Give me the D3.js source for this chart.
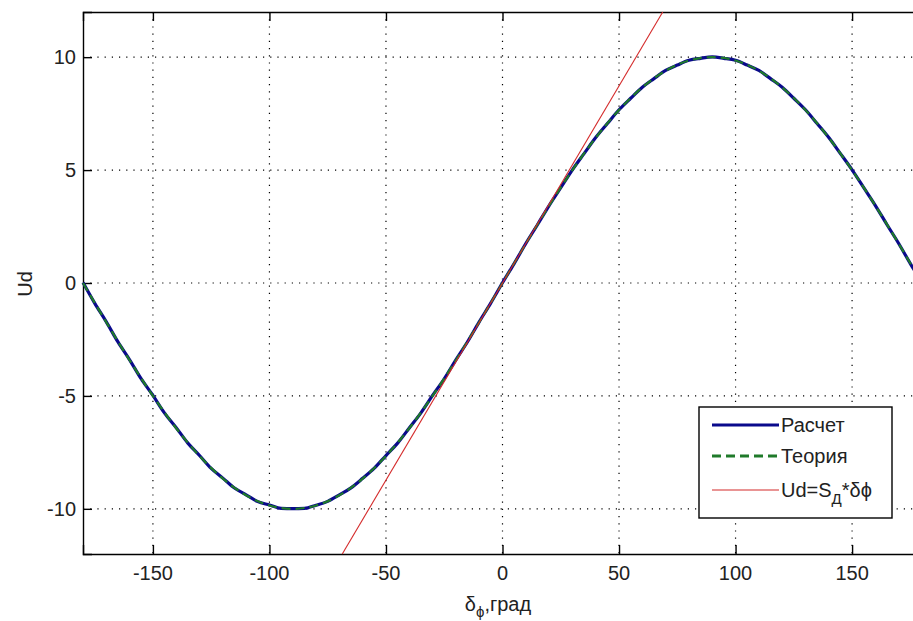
<!DOCTYPE html>
<html>
<head>
<meta charset="utf-8">
<script src="https://cdn.jsdelivr.net/npm/d3@7"></script>
<style>
  body { margin: 0; background: #fff; }
  svg { display: block; font-family: "Liberation Sans", Arial, sans-serif; }
</style>
</head>
<body>
<svg id="chart"></svg>
<script>

// x ticks / y ticks
const xticks = [-150, -100, -50, 0, 50, 100, 150];
const yticks = [-10, -5, 0, 5, 10];

// "Расчет" : measured curve, every 5 deg from -180 to 180
const calc_x = d3.range(-180, 181, 5);
const calc_y = [
    0.02, -0.89, -1.72, -2.61, -3.40, -4.25, -4.98, -5.76, -6.41, -7.09,
    -7.64, -8.21, -8.64, -9.08, -9.38, -9.68, -9.83, -9.98, -9.99, -9.98,
    -9.84, -9.67, -9.38, -9.07, -8.65, -8.20, -7.64, -7.09, -6.42, -5.75,
    -4.98, -4.24, -3.40, -2.60, -1.72, -0.88, 0.01, 0.86, 1.75, 2.58,
    3.43, 4.22, 5.01, 5.73, 6.44, 7.06, 7.67, 8.18, 8.67, 9.05,
    9.41, 9.65, 9.86, 9.95, 10.01, 9.95, 9.86, 9.65, 9.41, 9.05,
    8.67, 8.18, 7.67, 7.06, 6.44, 5.73, 5.01, 4.22, 3.43, 2.58,
    1.75, 0.86, 0.01
];

// "Теория" : theory curve, every 10 deg
const theory_x = d3.range(-180, 181, 10);
const theory_y = [
    0, -1.74, -3.42, -5.0, -6.43, -7.66, -8.66, -9.40, -9.85, -10,
    -9.85, -9.40, -8.66, -7.66, -6.43, -5.0, -3.42, -1.74, 0, 1.74,
    3.42, 5.0, 6.43, 7.66, 8.66, 9.40, 9.85, 10, 9.85, 9.40,
    8.66, 7.66, 6.43, 5.0, 3.42, 1.74, 0
];

// Ud = S_A * dphi : straight line through its two ends
const slope_x = [-68.75, 68.75];
const slope_y = [-12, 12];

const legend_labels = ["Расчет", "Теория", "Ud=S"];

const W = 913, H = 621;
const margin = {left: 83, top: 12, right: 922, bottom: 554};

const svg = d3.select('#chart')
    .attr('width', W)
    .attr('height', H);

svg.append('rect').attr('width', W).attr('height', H).attr('fill', '#fff');

const xscale = d3.scaleLinear().domain([-180, 180]).range([margin.left, margin.right]);
const yscale = d3.scaleLinear().domain([-12, 12]).range([margin.bottom, margin.top]);

// grid
const grid = svg.append('g')
    .attr('stroke', '#000')
    .attr('stroke-width', 1.2)
    .attr('stroke-dasharray', '1.2,6');
grid.selectAll('.vg').data(xticks).enter().append('line')
    .attr('x1', d => xscale(d)).attr('x2', d => xscale(d))
    .attr('y1', margin.top).attr('y2', margin.bottom);
grid.selectAll('.hg').data(yticks).enter().append('line')
    .attr('x1', margin.left).attr('x2', margin.right)
    .attr('y1', d => yscale(d)).attr('y2', d => yscale(d));

// axes (ticks pointing inward)
const fs = '20px';
const xaxis = svg.append('g')
    .attr('transform', `translate(0, ${margin.bottom})`)
    .call(d3.axisTop(xscale).tickValues(xticks).tickSize(9).tickFormat(''));
const xaxis_top = svg.append('g')
    .attr('transform', `translate(0, ${margin.top})`)
    .call(d3.axisBottom(xscale).tickValues(xticks).tickSize(9).tickFormat(''));
const yaxis = svg.append('g')
    .attr('transform', `translate(${margin.left}, 0)`)
    .call(d3.axisRight(yscale).tickValues(yticks).tickSize(9).tickFormat(''));
[xaxis, xaxis_top, yaxis].forEach(g => {
    g.select('.domain').attr('stroke', '#000').attr('stroke-width', 1.4);
    g.selectAll('.tick line').attr('stroke', '#000').attr('stroke-width', 1.4);
});

// tick labels
svg.append('g').selectAll('text').data(xticks).enter().append('text')
    .attr('x', d => xscale(d))
    .attr('y', 580)
    .attr('text-anchor', 'middle')
    .attr('font-size', fs)
    .attr('fill', '#222')
    .text(d => d);
svg.append('g').selectAll('text').data(yticks).enter().append('text')
    .attr('x', 76)
    .attr('y', d => yscale(d) + 7)
    .attr('text-anchor', 'end')
    .attr('font-size', fs)
    .attr('fill', '#222')
    .text(d => d);

// axis labels
const xlabel = svg.append('text')
    .attr('x', 498)
    .attr('y', 611)
    .attr('text-anchor', 'middle')
    .attr('font-size', fs)
    .attr('fill', '#222');
xlabel.append('tspan').text('δ');
xlabel.append('tspan').attr('dy', 6).attr('font-size', '15px').text('ϕ');
xlabel.append('tspan').attr('dy', -6).text(',град');

svg.append('text')
    .attr('transform', `translate(32, 284) rotate(-90)`)
    .attr('text-anchor', 'middle')
    .attr('font-size', fs)
    .attr('fill', '#222')
    .text('Ud');

// curves
const plot = svg.append('g');
const line = d3.line().x(d => xscale(d[0])).y(d => yscale(d[1]));

plot.append('path')
    .datum(d3.zip(calc_x, calc_y))
    .attr('fill', 'none')
    .attr('stroke', '#0a0a8c')
    .attr('stroke-width', 3.2)
    .attr('d', line.curve(d3.curveMonotoneX));

plot.append('path')
    .datum(d3.zip(theory_x, theory_y))
    .attr('fill', 'none')
    .attr('stroke', '#1f7a2a')
    .attr('stroke-width', 2.2)
    .attr('stroke-dasharray', '9,5')
    .attr('d', line.curve(d3.curveNatural));

plot.append('path')
    .datum(d3.zip(slope_x, slope_y))
    .attr('fill', 'none')
    .attr('stroke', '#d42a2a')
    .attr('stroke-width', 1.1)
    .attr('d', line.curve(d3.curveLinear));

// legend
const legend = svg.append('g').attr('transform', 'translate(699, 407)');
legend.append('rect')
    .attr('width', 193).attr('height', 111)
    .attr('fill', '#fff').attr('stroke', '#000').attr('stroke-width', 1.4);

const styles = [
    {stroke: '#0a0a8c', width: 3, dash: null},
    {stroke: '#1f7a2a', width: 3, dash: '9,5'},
    {stroke: '#d42a2a', width: 1.1, dash: null},
];
const rows = [18, 49, 83];
legend_labels.forEach((lab, i) => {
    legend.append('line')
        .attr('x1', 13).attr('x2', 80)
        .attr('y1', rows[i]).attr('y2', rows[i])
        .attr('stroke', styles[i].stroke)
        .attr('stroke-width', styles[i].width)
        .attr('stroke-dasharray', styles[i].dash);
    const t = legend.append('text')
        .attr('x', 82)
        .attr('y', rows[i] + 7)
        .attr('font-size', fs)
        .attr('fill', '#222');
    t.append('tspan').text(lab);
    if (i == 2) {
        t.append('tspan').attr('dy', 7).attr('font-size', '15px').text('Д');
        t.append('tspan').attr('dy', -7).text('*δϕ');
    }
});

</script>
</body>
</html>
